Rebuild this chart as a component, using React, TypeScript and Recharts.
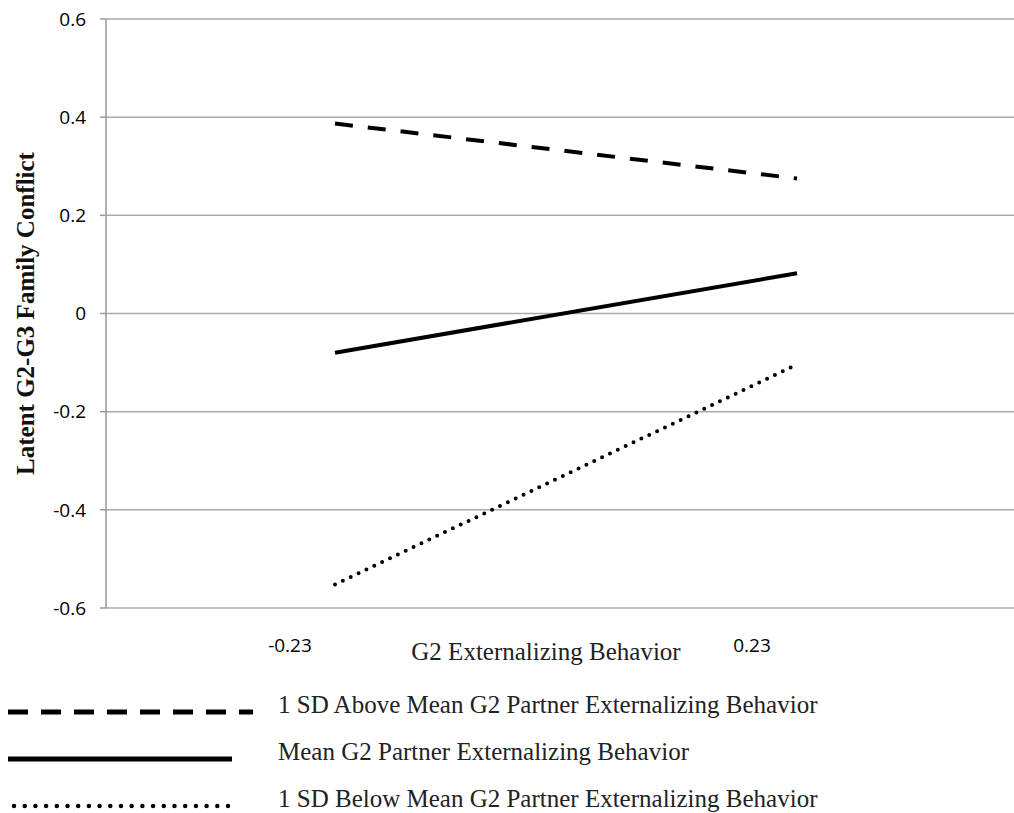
import React from 'react'
import { LineChart, Line, XAxis, YAxis, CartesianGrid, Legend, Label } from 'recharts'

const categories = ['-0.23', '0.23']
const aboveMean = [0.387, 0.275]
const meanPartner = [-0.08, 0.082]
const belowMean = [-0.552, -0.104]
const yTicks = [-0.6, -0.4, -0.2, 0, 0.2, 0.4, 0.6]

const data = categories.map((c, i) => ({
  x: c,
  above: aboveMean[i],
  mean: meanPartner[i],
  below: belowMean[i],
}))

const SERIF = "'Liberation Serif', 'Times New Roman', serif"
const SANS = "'Open Sans', 'Liberation Sans', sans-serif"

const seriesOrder = ['above', 'mean', 'below']

// legend swatch looks (thicker than in the plot, like the source figure)
const legendLook: Record<string, { dash?: string; x1: number; x2: number; w: number; cap: 'butt' | 'round' }> = {
  above: { dash: '20 13', x1: 8, x2: 253, w: 5, cap: 'butt' },
  mean: { x1: 8, x2: 232, w: 5, cap: 'butt' },
  below: { dash: '0 10.7', x1: 14, x2: 238, w: 4.5, cap: 'round' },
}

const renderLegend = (props: any) => {
  const payload = [...(props.payload || [])].sort(
    (a: any, b: any) => seriesOrder.indexOf(a.dataKey) - seriesOrder.indexOf(b.dataKey),
  )
  return (
    <svg width={900} height={130} style={{ display: 'block' }}>
      {payload.map((p: any, i: number) => {
        const look = legendLook[p.dataKey]
        const base = 23 + i * 47
        return (
          <g key={p.dataKey}>
            <line x1={look.x1} x2={look.x2} y1={base - 1} y2={base - 1} stroke="#000" strokeWidth={look.w}
              strokeDasharray={look.dash} strokeLinecap={look.cap} />
            <text x={278} y={base} fontFamily={SERIF} fontSize={25} fill="#222">{p.value}</text>
          </g>
        )
      })}
    </svg>
  )
}

export default function App() {
  return (
    <div style={{ position: 'absolute', left: 0, top: 0, background: '#fff' }}>
      <LineChart width={1014} height={813} data={data} margin={{ top: 19, right: 0, bottom: 145, left: 0 }}>
        <CartesianGrid vertical={false} stroke="#aaa" strokeWidth={1.5} />
        <XAxis dataKey="x" height={60} padding={{ left: 229, right: 217 }} axisLine={false} tickLine={false}
          tickSize={0} tickMargin={31} tick={{ fill: '#000', fontSize: 19, fontFamily: SANS, dx: -45 }}>
          <Label content={(p: any) => {
            const vb = p.viewBox
            return (
              <text x={vb.x + vb.width / 2 - 14} y={vb.y + 52} textAnchor="middle" fontFamily={SERIF} fontSize={25} fill="#222">
                G2 Externalizing Behavior
              </text>
            )
          }} />
        </XAxis>
        <YAxis type="number" domain={[-0.6, 0.6]} ticks={yTicks} interval={0} width={106} tickSize={6} tickMargin={14}
          axisLine={{ stroke: '#999', strokeWidth: 1.5 }} tickLine={{ stroke: '#999', strokeWidth: 1.5 }}
          tick={{ fill: '#000', fontSize: 19, fontFamily: SANS }} tickFormatter={(v: number) => String(v)}>
          <Label content={(p: any) => {
            const vb = p.viewBox
            const cy = vb.y + vb.height / 2
            return (
              <text x={25} y={cy} transform={`rotate(-90, 25, ${cy})`} textAnchor="middle" dominantBaseline="central"
                fontFamily={SERIF} fontWeight="bold" fontSize={25} fill="#111">
                Latent G2-G3 Family Conflict
              </text>
            )
          }} />
        </YAxis>
        <Line dataKey="above" name="1 SD Above Mean G2 Partner Externalizing Behavior" stroke="#000" strokeWidth={4}
          strokeDasharray="18 15" dot={false} activeDot={false} isAnimationActive={false} />
        <Line dataKey="mean" name="Mean G2 Partner Externalizing Behavior" stroke="#000" strokeWidth={4}
          dot={false} activeDot={false} isAnimationActive={false} />
        <Line dataKey="below" name="1 SD Below Mean G2 Partner Externalizing Behavior" stroke="#000" strokeWidth={4}
          strokeDasharray="0 8.7" strokeLinecap="round" dot={false} activeDot={false} isAnimationActive={false} />
        <Legend verticalAlign="middle" layout="horizontal" content={renderLegend}
          wrapperStyle={{ top: 690, left: 0, width: 900, height: 130 }} />
      </LineChart>
    </div>
  )
}
